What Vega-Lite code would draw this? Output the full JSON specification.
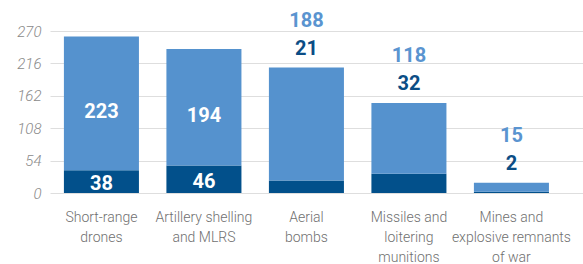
{
  "$schema": "https://vega.github.io/schema/vega-lite/v6.json",
  "autosize": "none",
  "width": 533,
  "height": 162,
  "padding": {"left": 50, "top": 31, "right": 0, "bottom": 71},
  "background": "white",
  "config": {"view": {"stroke": null}},
  "data": {
    "values": [
      {"cat": "Short-range drones", "type": "Killed", "value": 38},
      {"cat": "Short-range drones", "type": "Injured", "value": 223},
      {"cat": "Artillery shelling and MLRS", "type": "Killed", "value": 46},
      {"cat": "Artillery shelling and MLRS", "type": "Injured", "value": 194},
      {"cat": "Aerial bombs", "type": "Killed", "value": 21},
      {"cat": "Aerial bombs", "type": "Injured", "value": 188},
      {"cat": "Missiles and loitering munitions", "type": "Killed", "value": 32},
      {"cat": "Missiles and loitering munitions", "type": "Injured", "value": 118},
      {"cat": "Mines and explosive remnants of war", "type": "Killed", "value": 2},
      {"cat": "Mines and explosive remnants of war", "type": "Injured", "value": 15}
    ]
  },
  "transform": [
    {"calculate": "datum.type === 'Killed' ? 0 : 1", "as": "ord"},
    {"stack": "value", "groupby": ["cat"], "sort": [{"field": "ord", "order": "ascending"}], "as": ["y0", "y1"]},
    {"joinaggregate": [{"op": "sum", "field": "value", "as": "total"}], "groupby": ["cat"]},
    {"calculate": "(datum.y0 + datum.y1) / 2", "as": "mid"}
  ],
  "resolve": {"axis": {"y": "independent"}},
  "encoding": {
    "x": {
      "field": "cat",
      "type": "nominal",
      "sort": null,
      "title": null,
      "scale": {"paddingInner": 0.268, "paddingOuter": 0.234, "align": 0.29},
      "axis": {
        "domain": false,
        "ticks": false,
        "labelAngle": 0,
        "labelPadding": 17,
        "labelFont": "Roboto",
        "labelFontWeight": 300,
        "labelFontSize": 14,
        "labelColor": "#707070",
        "labelLineHeight": 20,
        "labelLimit": 200,
        "labelOverlap": false,
        "labelExpr": "datum.value == 'Short-range drones' ? ['Short-range','drones'] : datum.value == 'Artillery shelling and MLRS' ? ['Artillery shelling','and MLRS'] : datum.value == 'Aerial bombs' ? ['Aerial','bombs'] : datum.value == 'Missiles and loitering munitions' ? ['Missiles and','loitering','munitions'] : ['Mines and','explosive remnants','of war']"
      }
    }
  },
  "layer": [
    {
      "mark": {"type": "bar"},
      "encoding": {
        "y": {
          "field": "y0",
          "type": "quantitative",
          "title": null,
          "scale": {"domain": [0, 270], "nice": false},
          "axis": {
            "values": [0, 54, 108, 162, 216, 270],
            "labelOverlap": false,
            "domain": false,
            "ticks": false,
            "labelPadding": 9,
            "labelFont": "Roboto",
            "labelFontStyle": "italic",
            "labelFontWeight": 300,
            "labelFontSize": 15,
            "labelColor": "#8a8a8a",
            "gridColor": "#dedede",
            "gridWidth": 1
          }
        },
        "y2": {"field": "y1"},
        "color": {
          "field": "type",
          "type": "nominal",
          "scale": {"domain": ["Killed", "Injured"], "range": ["#02508b", "#5592ce"]},
          "legend": null
        }
      }
    },
    {
      "transform": [
        {"filter": {"field": "cat", "oneOf": ["Short-range drones", "Artillery shelling and MLRS"]}},
        {"filter": "datum.type === 'Injured'"}
      ],
      "mark": {"type": "text", "font": "Roboto", "fontWeight": "bold", "fontSize": 20, "color": "white", "baseline": "middle", "dy": 8.5},
      "encoding": {
        "y": {"field": "mid", "type": "quantitative", "axis": null},
        "text": {"field": "value", "type": "quantitative"}
      }
    },
    {
      "transform": [
        {"filter": {"field": "cat", "oneOf": ["Short-range drones", "Artillery shelling and MLRS"]}},
        {"filter": "datum.type === 'Killed'"}
      ],
      "mark": {"type": "text", "font": "Roboto", "fontWeight": "bold", "fontSize": 20, "color": "white", "baseline": "middle", "dy": 2.5},
      "encoding": {
        "y": {"field": "mid", "type": "quantitative", "axis": null},
        "text": {"field": "value", "type": "quantitative"}
      }
    },
    {
      "transform": [
        {"filter": {"field": "cat", "oneOf": ["Aerial bombs", "Missiles and loitering munitions", "Mines and explosive remnants of war"]}},
        {"filter": "datum.type === 'Killed'"}
      ],
      "mark": {"type": "text", "font": "Roboto", "fontWeight": "bold", "fontSize": 20, "color": "#0b4d85", "baseline": "middle", "dy": -19},
      "encoding": {
        "y": {"field": "total", "type": "quantitative", "axis": null},
        "text": {"field": "value", "type": "quantitative"}
      }
    },
    {
      "transform": [
        {"filter": {"field": "cat", "oneOf": ["Aerial bombs", "Missiles and loitering munitions", "Mines and explosive remnants of war"]}},
        {"filter": "datum.type === 'Injured'"}
      ],
      "mark": {"type": "text", "font": "Roboto", "fontWeight": "bold", "fontSize": 20, "color": "#5a94d0", "baseline": "middle", "dy": -47},
      "encoding": {
        "y": {"field": "total", "type": "quantitative", "axis": null},
        "text": {"field": "value", "type": "quantitative"}
      }
    }
  ]
}
